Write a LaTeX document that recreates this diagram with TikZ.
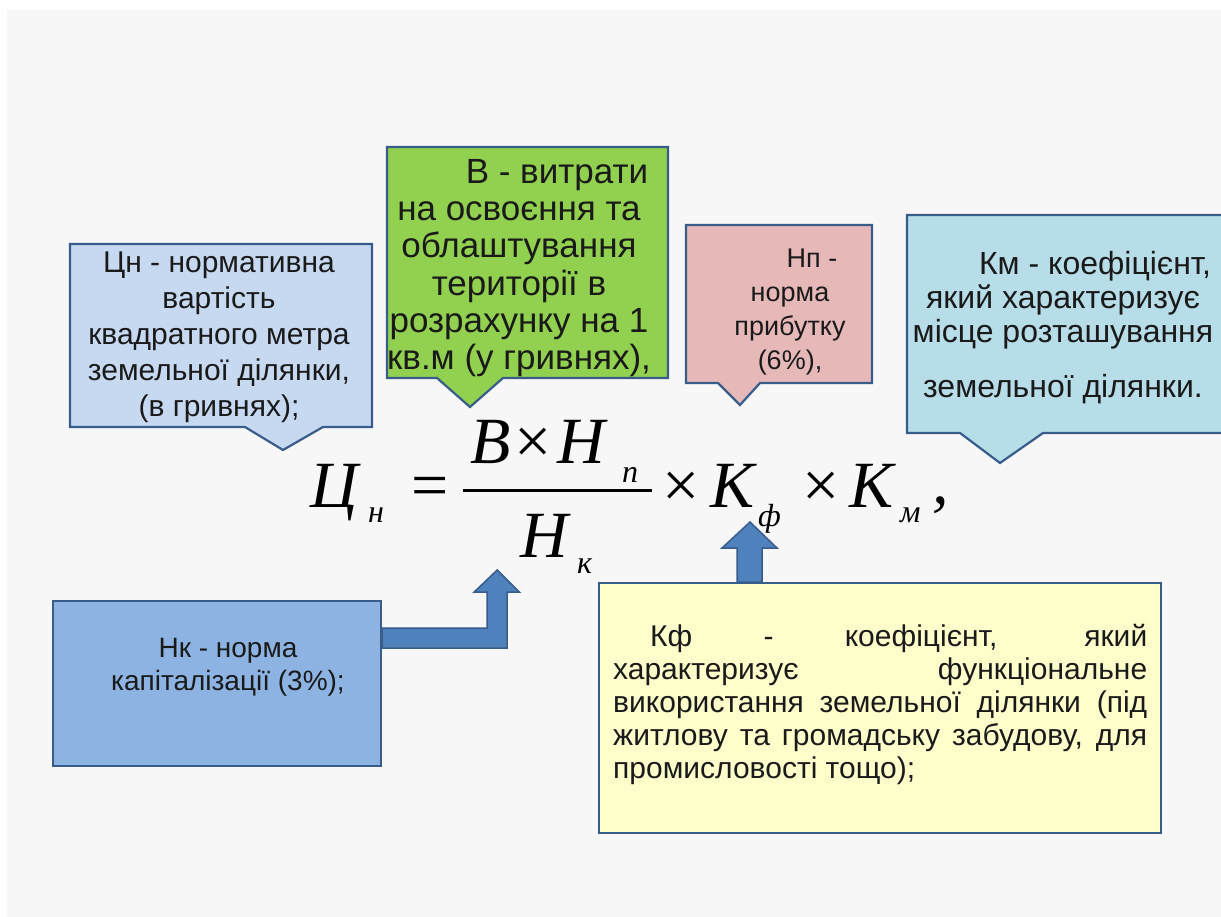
\documentclass[tikz,border=0pt]{standalone}
\usepackage{fontspec}
\setmainfont{Liberation Sans}
\newfontfamily\tnr{Liberation Serif}
\usetikzlibrary{calc}
\definecolor{bg}{HTML}{F7F7F7}
\definecolor{bord}{HTML}{385D8A}
\definecolor{cCn}{HTML}{C6D9F1}
\definecolor{cGr}{HTML}{92D050}
\definecolor{cPk}{HTML}{E6B9B8}
\definecolor{cKm}{HTML}{B7DDE8}
\definecolor{cNk}{HTML}{8DB3E2}
\definecolor{cKf}{HTML}{FFFFCC}
\definecolor{arrowfill}{HTML}{4F81BD}
\definecolor{tx}{HTML}{1A1A1A}
\begin{document}
\begin{tikzpicture}[x=1pt,y=-1pt,
  box/.style={draw=bord,line width=2.2pt,line join=miter},
  txt/.style={inner sep=0pt,text=tx,align=center,anchor=base},
  fm/.style={inner sep=0pt,anchor=base west,text=black,font=\tnr\itshape\fontsize{66}{70}\selectfont},
  fs/.style={inner sep=0pt,anchor=base west,text=black,font=\tnr\itshape\fontsize{32}{34}\selectfont},
  fo/.style={inner sep=0pt,anchor=base,text=black,font=\tnr\fontsize{66}{70}\selectfont},
  blk/.style={fill=arrowfill,draw=bord,line width=1.5pt,line join=miter}]
\useasboundingbox (0,0) rectangle (1221,917);
\fill[white] (0,0) rectangle (1221,917);
\fill[bg] (7,10) rectangle (1221,917);

% callouts
\path[box,fill=cCn] (70,244) -- (372,244) -- (372,427) -- (323,427) -- (283,450) -- (245,427) -- (70,427) -- cycle;
\path[box,fill=cGr] (387,147) -- (668,147) -- (668,378) -- (503,378) -- (470,407) -- (437,378) -- (387,378) -- cycle;
\path[box,fill=cPk] (686,225) -- (872,225) -- (872,383) -- (760,383) -- (740,405) -- (718,383) -- (686,383) -- cycle;
\path[box,fill=cKm] (907,215) -- (1240,215) -- (1240,433) -- (1043,433) -- (1000,463) -- (960,433) -- (907,433) -- cycle;

\node[txt,font=\fontsize{30}{36}\selectfont] (cn) at (219,416)
  {Цн - нормативна\\вартість\\квадратного метра\\земельної ділянки,\\(в гривнях);};
\node[txt,font=\fontsize{35}{37.4}\selectfont] (vb) at (519,370)
  {\hspace*{76pt}В - витрати\\на освоєння та\\облаштування\\території в\\розрахунку на 1\\кв.м (у гривнях),};
\node[txt,font=\fontsize{27}{34}\selectfont] (hp) at (790,369)
  {\hspace*{44pt}Нп -\\норма\\прибутку\\(6\%),};
\node[txt,font=\fontsize{32}{34}\selectfont] (km) at (1063,397)
  {\hspace*{64pt}Км - коефіцієнт,\\який характеризує\\місце розташування\\[21pt]земельної ділянки.};

% bottom boxes
\node[box,fill=cNk,minimum width=328pt,minimum height=165pt,inner sep=0pt,anchor=north west] (nkbox) at (52,600) {};
\node[box,fill=cKf,minimum width=562pt,minimum height=250pt,inner sep=0pt,anchor=north west] (kfbox) at (598,582) {};
\node[txt,font=\fontsize{28}{33}\selectfont] (nk) at (228,690)
  {Нк - норма\\капіталізації (3\%);};
\node[txt,align=left,anchor=base west,font=\fontsize{30}{33}\selectfont] (kf) at (613,778)
  {\makebox[534pt][s]{\hspace*{37pt}Кф - коефіцієнт, який}\\
   \makebox[534pt][s]{характеризує функціональне}\\
   \makebox[534pt][s]{використання земельної ділянки (під}\\
   \makebox[534pt][s]{житлову та громадську забудову, для}\\
   промисловості тощо);};

% block arrows
\coordinate (ba) at ($(nkbox.north east)+(0,38)$);
\path[blk] ($(ba)+(0,-10)$) -- ++(105,0) -- ++(0,-36) -- ++(-13,0) -- ++(23,-22) -- ++(22,22) -- ++(-12,0) -- ++(0,56) -- ($(ba)+(0,10)$) -- cycle;
\coordinate (ua) at ($(kfbox.north west)+(152,0)$);
\path[blk] ($(ua)+(-13,0)$) -- ++(0,-34) -- ++(-15,0) -- ++(28,-26) -- ++(27,26) -- ++(-15,0) -- ($(ua)+(12,0)$) -- cycle;

% formula
\node[fm] (c) at (310,507) {Ц};
\node[fs] (cs) at (368,522) {н};
\node[fo] (eq) at (430,507) {=};
\draw[line width=3pt] (463,490) -- (652,490);
\node[fm] (b) at (470,463) {В};
\node[fo] (t1) at (533,463) {×};
\node[fm] (h1) at (557,463) {Н};
\node[fs] (h1s) at (622,482) {п};
\node[fm] (h2) at (520,557) {Н};
\node[fs] (h2s) at (577,573) {к};
\node[fo] (t2) at (681,507) {×};
\node[fm] (k1) at (710,507) {К};
\node[fs] (k1s) at (758,526) {ф};
\node[fo] (t3) at (821,507) {×};
\node[fm] (k2) at (849,507) {К};
\node[fs] (k2s) at (900,522) {м};
\node[fm] (cm) at (932,503) {,};
\end{tikzpicture}
\end{document}
